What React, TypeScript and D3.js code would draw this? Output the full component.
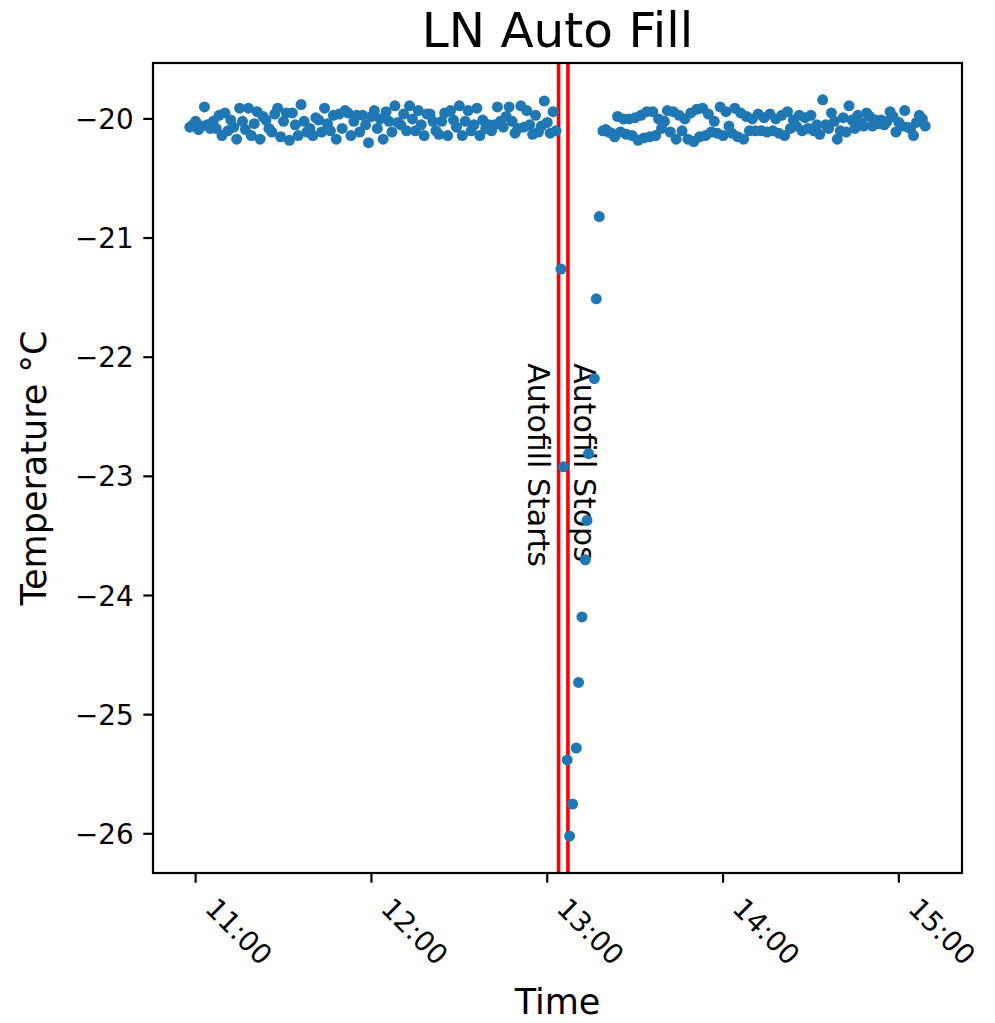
import React from "react";
import * as d3 from "d3";

// ---- data ----
const startBefore = "10:58"; // first sample, 1-minute sampling
const bandBefore = [
  -20.07, -20.05, -20.02, -20.09, -20.06, -19.9, -20.05, -20.08, -20.02, -20.08,
  -19.97, -20.14, -19.95, -20.1, -20.01, -20.07, -20.17, -19.91, -20.02, -20.09,
  -19.91, -20.14, -20.04, -19.94, -20.17, -19.98, -20.01, -20.08, -20.11, -19.96,
  -19.91, -20.15, -20.02, -19.95, -20.18, -19.95, -20.05, -20.14, -19.88, -20.02,
  -20.11, -20.08, -20.14, -19.99, -20.01, -20.11, -19.91, -20.04, -20.1, -19.97,
  -20.17, -19.96, -20.08, -19.93, -19.95, -20.14, -20.02, -19.97, -20.11, -19.97,
  -20.05, -20.2, -19.98, -19.93, -20.08, -20.0, -20.17, -19.94, -20.02, -20.11,
  -19.89, -20.03, -20.05, -19.96, -20.1, -19.89, -20.0, -20.1, -19.93, -20.05,
  -20.14, -19.96, -19.96, -20.02, -20.1, -20.13, -20.02, -19.95, -20.14, -19.93,
  -20.01, -20.07, -19.89, -20.14, -20.02, -19.93, -20.1, -20.05, -19.91, -20.14,
  -20.01, -20.08, -20.05, -20.1, -20.05, -19.9, -20.02, -20.07, -19.98, -19.9,
  -20.02, -20.12, -20.08, -19.89, -20.07, -19.93, -20.05, -20.13, -19.97, -20.11,
  -20.06, -19.85, -20.03, -20.12, -19.94, -20.1,
];

const dropTimes = [
  "13:04:41", "13:05:34", "13:06:50", "13:07:37", "13:08:39", "13:09:55", "13:10:41",
  "13:11:51", "13:12:59", "13:13:34", "13:14:07", "13:16:04", "13:16:44", "13:17:46",
];
const dropValues = [
  -21.26, -22.92, -25.38, -26.02, -25.75, -25.28, -24.73,
  -24.18, -23.7, -23.37, -22.81, -22.18, -21.51, -20.82,
];

const startAfter = "13:19";
const bandAfter = [
  -20.1, -20.09, -20.11, -20.12, -20.15, -19.98, -20.11, -20.0, -20.13, -20.0,
  -20.14, -19.99, -20.18, -19.97, -20.16, -19.94, -20.15, -19.94, -20.14, -20.0,
  -20.08, -20.02, -19.93, -20.11, -19.94, -20.17, -19.97, -20.1, -20.0, -20.17,
  -19.95, -20.19, -19.92, -20.15, -19.91, -20.14, -19.96, -20.11, -20.02, -20.12,
  -19.9, -20.14, -19.94, -20.06, -20.12, -19.91, -20.15, -19.95, -20.17, -19.98,
  -20.1, -20.0, -20.1, -19.96, -20.1, -19.99, -20.11, -19.96, -20.1, -20.0,
  -20.12, -19.97, -20.14, -19.94, -20.08, -20.01, -20.06, -19.97, -20.1, -19.99,
  -20.08, -19.97, -20.1, -20.05, -20.13, -19.84, -20.05, -20.08, -19.95, -20.02,
  -20.17, -20.1, -19.99, -20.11, -19.89, -20.01, -20.08, -19.97, -20.03, -20.06,
  -19.95, -19.98, -20.06, -20.01, -20.04, -20.01, -20.05, -20.02, -19.94, -19.98,
  -20.11, -20.03, -20.06, -19.93, -20.07, -20.08, -20.14, -20.03, -19.97, -20.0,
  -20.06,
];

const autofillStart = "13:03:52";
const autofillStop = "13:07:04";
const xTickLabels = ["11:00", "12:00", "13:00", "14:00", "15:00"];
const yTickValues = [-26, -25, -24, -23, -22, -21, -20];

const title = "LN Auto Fill";
const xLabel = "Time";
const yLabel = "Temperature °C";
const startLabel = "Autofill Starts";
const stopLabel = "Autofill Stops";

// ---- helpers ----
const parseT = (s: string) => {
  const p = s.split(":").map(Number);
  return new Date(2020, 0, 1, p[0], p[1], p[2] || 0);
};
const MIN = 60000;

type Pt = { t: Date; v: number };
const points: Pt[] = [];
bandBefore.forEach((v, i) => points.push({ t: new Date(parseT(startBefore).getTime() + i * MIN), v }));
dropTimes.forEach((s, i) => points.push({ t: parseT(s), v: dropValues[i] }));
bandAfter.forEach((v, i) => points.push({ t: new Date(parseT(startAfter).getTime() + i * MIN), v }));

const W = 995, H = 1023;
const L = 153, R = 962, T = 63, B = 873;
const FONT = "DejaVu Sans, sans-serif";

export default function App() {
  const [tMin, tMax] = d3.extent(points, (d) => d.t.getTime()) as [number, number];
  const [vMin, vMax] = d3.extent(points, (d) => d.v) as [number, number];
  const tp = (tMax - tMin) * 0.05;
  const vp = (vMax - vMin) * 0.05;
  const x = d3.scaleTime().domain([new Date(tMin - tp), new Date(tMax + tp)]).range([L, R]);
  const y = d3.scaleLinear().domain([vMin - vp, vMax + vp]).range([B, T]);

  const tickLen = 9.7;
  const xs = x(parseT(autofillStart));
  const xe = x(parseT(autofillStop));
  const textY = y(-22) + 6;

  return (
    <svg width={W} height={H} style={{ position: "absolute", left: 0, top: 0, background: "#fff" }} fontFamily={FONT}>
      <rect x={0} y={0} width={W} height={H} fill="#fff" />
      <text x={(L + R) / 2} y={47} textAnchor="middle" fontSize={48.5}>{title}</text>

      {/* red lines */}
      <line x1={xs} x2={xs} y1={T} y2={B} stroke="#ff0000" strokeWidth={3.6} />
      <line x1={xe} x2={xe} y1={T} y2={B} stroke="#ff0000" strokeWidth={3.6} />

      <text transform={`translate(${xs - 31},${textY}) rotate(90)`} fontSize={30}>{startLabel}</text>
      <text transform={`translate(${xe + 6},${textY}) rotate(90)`} fontSize={30}>{stopLabel}</text>

      {points.map((d, i) => (
        <circle key={i} cx={x(d.t)} cy={y(d.v)} r={5.5} fill="#1f77b4" />
      ))}

      {/* frame */}
      <rect x={L} y={T} width={R - L} height={B - T} fill="none" stroke="#000" strokeWidth={2.2} />

      {/* y ticks */}
      {yTickValues.map((v) => (
        <g key={v}>
          <line x1={L} x2={L - tickLen} y1={y(v)} y2={y(v)} stroke="#000" strokeWidth={2.2} />
          <text x={L - 2 * tickLen} y={y(v)} dy="0.36em" textAnchor="end" fontSize={27.8}>
            {"\u2212" + Math.abs(v)}
          </text>
        </g>
      ))}

      {/* x ticks */}
      {xTickLabels.map((s) => {
        const px = x(parseT(s));
        return (
          <g key={s}>
            <line x1={px} x2={px} y1={B} y2={B + tickLen} stroke="#000" strokeWidth={2.2} />
            <text transform={`translate(${px + 8},${910}) rotate(45)`} fontSize={27.8}>{s}</text>
          </g>
        );
      })}

      <text x={(L + R) / 2} y={1014} textAnchor="middle" fontSize={35}>{xLabel}</text>
      <text transform={`translate(46,${(T + B) / 2}) rotate(-90)`} textAnchor="middle" fontSize={35}>{yLabel}</text>
    </svg>
  );
}
